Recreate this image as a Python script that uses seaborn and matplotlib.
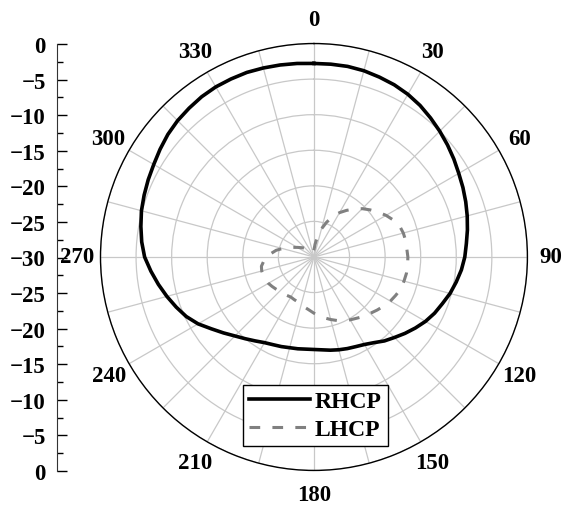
import numpy as np
import pandas as pd
import seaborn as sns
import matplotlib.pyplot as plt
from matplotlib.ticker import MultipleLocator

# angles in degrees, clockwise from top; gain in dB
angles = list(range(0, 365, 5))
rhcp = [-2.8, -2.8, -2.8, -2.9, -3.1, -3.3, -3.6, -4.0, -4.5, -5.0, -5.5, -6.0,
        -6.5, -6.9, -7.3, -7.7, -8.1, -8.5, -8.8, -9.2, -9.7, -10.2, -10.8, -11.3,
        -11.9, -12.6, -13.3, -14.0, -14.6, -15.3, -15.8, -16.1, -16.3, -16.5, -16.7, -16.9,
        -17.0, -17.0, -16.9, -16.8, -16.6, -16.4, -16.1, -15.6, -15.0, -14.3, -13.4, -12.4,
        -11.2, -10.2, -9.4, -8.6, -7.8, -7.0, -6.2, -5.7, -5.3, -4.9, -4.6, -4.3,
        -4.0, -3.6, -3.2, -2.9, -2.7, -2.5, -2.4, -2.4, -2.4, -2.5, -2.6, -2.7,
        -2.8]
lhcp = [-29.0, -28.2, -27.0, -25.9, -24.8, -23.7, -22.8, -22.0, -21.2, -20.4, -19.7, -19.0,
        -18.3, -17.7, -17.2, -17.0, -16.9, -16.9, -16.8, -16.8, -16.8, -16.9, -17.0, -17.3,
        -17.6, -18.0, -18.4, -18.8, -19.1, -19.5, -19.8, -20.2, -20.5, -20.9, -21.3, -21.7,
        -22.1, -22.5, -22.8, -23.1, -23.3, -23.4, -23.5, -23.4, -23.3, -23.2, -23.0, -22.8,
        -22.6, -22.5, -22.4, -22.4, -22.5, -22.9, -23.4, -24.0, -24.6, -25.4, -26.2, -26.8,
        -27.3, -27.7, -28.0, -28.3, -28.6, -28.8, -29.0, -29.2, -29.3, -29.3, -29.3, -29.2,
        -29.0]
angle_labels = ['0', '30', '60', '90', '120', '150', '180', '210', '240', '270', '300', '330']
scale_ticks = [-30, -25, -20, -15, -10, -5, 0, 5, 10, 15, 20, 25, 30]

plt.rcParams['font.family'] = ['Liberation Serif', 'DejaVu Serif']
plt.rcParams['font.weight'] = 'bold'
plt.rcParams['font.size'] = 16

df = pd.DataFrame({'theta': np.deg2rad(angles), 'RHCP': rhcp, 'LHCP': lhcp})

fig = plt.figure(figsize=(5.7, 5.06), dpi=100)
ax = fig.add_axes([0.1763, 0.0682, 0.749, 0.8439], projection='polar')
ax.set_theta_zero_location('N')
ax.set_theta_direction(-1)

sns.lineplot(data=df, x='theta', y='RHCP', ax=ax, color='black', lw=2.6,
             sort=False, label='RHCP')
sns.lineplot(data=df, x='theta', y='LHCP', ax=ax, color='#808080', lw=2.2,
             sort=False, linestyle=(0, (3.5, 4)), label='LHCP')

ax.set_ylim(-30, 0)
ax.set_yticks([-25, -20, -15, -10, -5, 0])
ax.set_yticklabels([])
ax.set_xticks(np.deg2rad(np.arange(0, 360, 15)))
ax.set_xticklabels([angle_labels[i // 2] if i % 2 == 0 else '' for i in range(24)])
ax.tick_params(axis='x', direction='in', length=5, width=1, color='black', pad=10,
               labelsize=16.5)
ax.grid(color='#c8c8c8', lw=0.9)
ax.spines['polar'].set_color('black')
ax.spines['polar'].set_linewidth(1.0)
ax.set_xlabel('')
ax.set_ylabel('')
ax.get_legend().remove()

leg = fig.legend(loc='center', bbox_to_anchor=(0.553, 0.177), fancybox=False,
                 edgecolor='black', framealpha=1, handlelength=2.6, borderpad=0.25,
                 labelspacing=0.25, handletextpad=0.2, borderaxespad=0,
                 prop={'family': 'Liberation Serif', 'weight': 'bold', 'size': 17})
leg.get_frame().set_linewidth(1.0)

# mirrored dB scale on the left
sc = fig.add_axes([57 / 570, 34 / 506, 0.01, 427 / 506])
sc.set_ylim(-30, 30)
sc.set_xlim(0, 1)
for s in ['top', 'right', 'bottom']:
    sc.spines[s].set_visible(False)
sc.spines['left'].set_color('#333333')
sc.set_xticks([])
sc.set_yticks(scale_ticks)
sc.set_yticklabels(['\u2212' + str(30 - abs(v)) if abs(v) != 30 else '0' for v in scale_ticks])
sc.yaxis.set_minor_locator(MultipleLocator(2.5))
sc.tick_params(axis='y', which='major', direction='in', length=7, width=1, pad=8,
               labelsize=16.5)
sc.tick_params(axis='y', which='minor', direction='in', length=4, width=1)
sc.patch.set_alpha(0)

fig.savefig('out.png', dpi=100)
